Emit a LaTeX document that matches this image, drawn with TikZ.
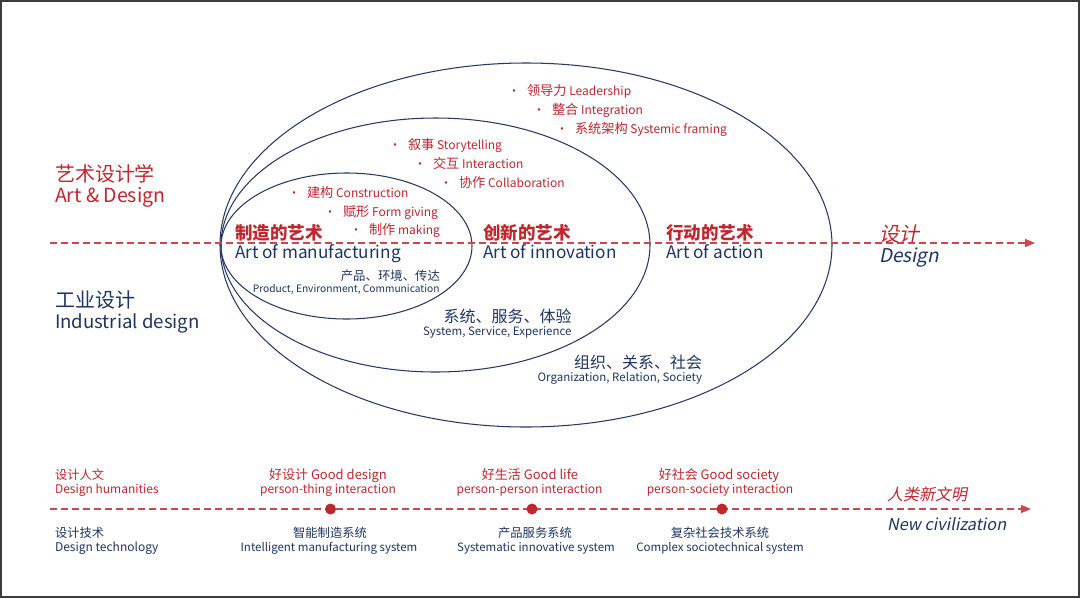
\documentclass[tikz,border=0pt]{standalone}
\usepackage{fontspec}
\setmainfont{Noto Sans CJK SC}
\newfontfamily\slfont[FakeSlant=0.2]{Noto Sans CJK SC}
\usetikzlibrary{arrows.meta}
\definecolor{dred}{RGB}{192,38,45}
\definecolor{navy}{RGB}{31,52,96}
\definecolor{lred}{RGB}{200,72,78}
\definecolor{ellc}{RGB}{40,55,100}
\definecolor{framec}{RGB}{60,60,60}
\newcommand{\bul}{\llap{\makebox[13pt][l]{\makebox[0pt]{•}}}}
\newcommand{\zhb}[1]{{\fontsize{13.2}{16}\selectfont #1}}
\begin{document}
\begin{tikzpicture}[x=1pt,y=-1pt,
  every node/.style={inner sep=0pt, outer sep=0pt},
  ellline/.style={draw=ellc, line width=1.05pt},
  dashline/.style={draw=lred, line width=1.4pt, dash pattern=on 7pt off 4pt, -{Triangle[length=10pt,width=8pt]}},
  redt/.style={text=dred},
  navt/.style={text=navy},
  bigz/.style={font=\fontsize{20}{24}\selectfont},
  artt/.style={font=\fontsize{17.5}{21}\selectfont\bfseries, text=dred},
  arte/.style={font=\fontsize{17.2}{21}\selectfont, text=navy},
  bult/.style={font=\fontsize{12}{15}\selectfont, text=dred, anchor=base west},
  cjkm/.style={font=\fontsize{16}{19}\selectfont, text=navy, anchor=base east},
  engs/.style={font=\fontsize{11.5}{14}\selectfont, text=navy, anchor=base east},
  bott/.style={font=\fontsize{13}{15}\selectfont, anchor=base},
  botz/.style={font=\fontsize{12.3}{15}\selectfont, anchor=base},
  bote/.style={font=\fontsize{11.5}{14}\selectfont, anchor=base},
  boter/.style={font=\fontsize{12}{14}\selectfont, anchor=base},
  dotn/.style={circle, fill=dred, minimum size=11pt}
]
\useasboundingbox (0,0) rectangle (1080,598);
\fill[white] (0,0) rectangle (1080,598);
\draw[framec, line width=1.8pt] (1,0.9) rectangle (1078.6,596.6);

% ellipses
\draw[ellline] (526,245) ellipse [x radius=306, y radius=182];
\draw[ellline] (435.5,245) ellipse [x radius=214.5, y radius=127];
\draw[ellline] (346.5,246) ellipse [x radius=125.5, y radius=73];

% main axis
\coordinate (mstart) at (50,243);
\coordinate (mend) at (1035,243);
\draw[dashline] (mstart) -- (mend);

% left labels
\node[bigz, redt, anchor=base west] (ad1) at (55,181) {艺术设计学};
\node[font=\fontsize{19.5}{24}\selectfont, redt, anchor=base west] (ad2) at (55,202) {Art \& Design};
\node[bigz, navt, anchor=base west] (id1) at (55,307.6) {工业设计};
\node[font=\fontsize{18.6}{24}\selectfont, navt, anchor=base west] (id2) at (55,328) {Industrial design};

% arts
\node[artt, anchor=base west] (am1) at (235,239) {制造的艺术};
\node[arte, anchor=base west] (am2) at (235,258.5) {Art of manufacturing};
\node[artt, anchor=base west] (ai1) at (483,239) {创新的艺术};
\node[arte, anchor=base west] (ai2) at (483,258.5) {Art of innovation};
\node[artt, anchor=base west] (aa1) at (666,239) {行动的艺术};
\node[arte, anchor=base west] (aa2) at (666,258.5) {Art of action};

% design label
\node[font=\fontsize{20}{24}\slfont, text=dred, anchor=base west] (ds1) at (879,241) {设计};
\node[font=\fontsize{19}{23}\slfont, text=navy, anchor=base west] (ds2) at (879,262) {Design};

% bullets
\node[bult] (b1) at (527,95) {\bul\zhb{领导力} Leadership};
\node[bult] (b2) at (552,114) {\bul\zhb{整合} Integration};
\node[bult] (b3) at (575,133) {\bul\zhb{系统架构} Systemic framing};
\node[bult] (b4) at (408,149) {\bul\zhb{叙事} Storytelling};
\node[bult] (b5) at (433,168) {\bul\zhb{交互} Interaction};
\node[bult] (b6) at (459,187) {\bul\zhb{协作} Collaboration};
\node[bult] (b7) at (307,197) {\bul\zhb{建构} Construction};
\node[bult] (b8) at (343,216) {\bul\zhb{赋形} Form giving};
\node[bult] (b9) at (369,234) {\bul\zhb{制作} making};

% scopes
\node[font=\fontsize{12.4}{15}\selectfont, text=navy, anchor=base east] (s1a) at (440,280) {产品、环境、传达};
\node[font=\fontsize{10.2}{12}\selectfont, text=navy, anchor=base east] (s1b) at (439.5,292.6) {Product, Environment, Communication};
\node[cjkm] (s2a) at (571.5,322) {系统、服务、体验};
\node[engs] (s2b) at (571.5,335.5) {System, Service, Experience};
\node[cjkm] (s3a) at (702,368) {组织、关系、社会};
\node[engs] (s3b) at (702,381.5) {Organization, Relation, Society};

% bottom timeline
\coordinate (tstart) at (50,509);
\coordinate (tend) at (1031,509);
\draw[dashline] (tstart) -- (tend);
\node[dotn] (d1) at (330.5,509) {};
\node[dotn] (d2) at (532,509) {};
\node[dotn] (d3) at (722,509) {};

\node[botz, redt, anchor=base west] (h1) at (55,479.5) {设计人文};
\node[boter, redt, anchor=base west] (h2) at (55,493.5) {Design humanities};
\node[botz, navt, anchor=base west] (t1) at (55,537) {设计技术};
\node[boter, navt, anchor=base west] (t2) at (55,551) {Design technology};

\node[bott, redt] (g1a) at (328,479.5) {好设计 Good design};
\node[boter, redt] (g1b) at (328,493.5) {person-thing interaction};
\node[botz, navt] (g1c) at (330,537) {智能制造系统};
\node[bote, navt] (g1d) at (329,551) {Intelligent manufacturing system};

\node[bott, redt] (g2a) at (530,479.5) {好生活 Good life};
\node[boter, redt] (g2b) at (529.5,493.5) {person-person interaction};
\node[botz, navt] (g2c) at (535,537) {产品服务系统};
\node[bote, navt] (g2d) at (536,551) {Systematic innovative system};

\node[bott, redt] (g3a) at (719,479.5) {好社会 Good society};
\node[boter, redt] (g3b) at (720,493.5) {person-society interaction};
\node[botz, navt] (g3c) at (720,537) {复杂社会技术系统};
\node[bote, navt] (g3d) at (720,551) {Complex sociotechnical system};

\node[font=\fontsize{16}{19}\slfont, text=dred, anchor=base west] (nc1) at (887,500.5) {人类新文明};
\node[font=\fontsize{16.3}{19}\slfont, text=navy, anchor=base west] (nc2) at (887,530.5) {New civilization};
\end{tikzpicture}
\end{document}
